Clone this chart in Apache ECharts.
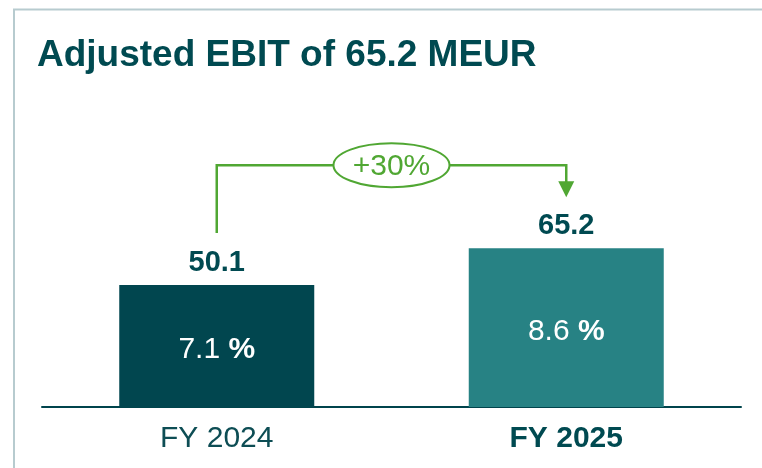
<!DOCTYPE html>
<html>
<head>
<meta charset="utf-8">
<script src="https://cdn.jsdelivr.net/npm/echarts@6/dist/echarts.min.js"></script>
<style>
  html, body { margin: 0; padding: 0; background: #fff; }
  #chart { width: 762px; height: 468px; }
</style>
</head>
<body>
<div id="chart"></div>
<script>
// data
const categories = ['FY 2024', 'FY 2025']
const ebitValues = [50.1, 65.2]
const marginValues = [7.1, 8.6]
const growthLabel = '+30%'

const FONT = 'Liberation Sans, Arial, sans-serif'
const DARK = '#01464f'
const TEAL = '#278284'
const GREEN = '#50a733'

const chart = echarts.init(document.getElementById('chart'))

const option = {
  animation: false,
  title: {
    text: 'Adjusted EBIT of 65.2 MEUR',
    left: 37,
    top: 37,
    padding: 0,
    textStyle: { fontFamily: FONT, fontSize: 37, fontWeight: 'bold', color: '#004a51' }
  },
  grid: { left: 42, right: 21, top: 163.5, bottom: 61 },
  xAxis: {
    type: 'category',
    data: categories,
    axisLine: { lineStyle: { color: '#00444c', width: 2 } },
    axisTick: { show: false },
    axisLabel: {
      margin: 17,
      formatter: (v, i) => (i === 1 ? '{b|' + v + '}' : '{r|' + v + '}'),
      rich: {
        r: { fontFamily: FONT, fontSize: 30, color: '#0d4d54' },
        b: { fontFamily: FONT, fontSize: 30, fontWeight: 'bold', color: '#004a51' }
      }
    }
  },
  yAxis: { type: 'value', min: 0, max: 100, show: false },
  series: [
    {
      type: 'bar',
      barWidth: 195,
      data: ebitValues.map((v, i) => ({
        value: v,
        itemStyle: { color: i === 0 ? DARK : TEAL }
      })),
      label: {
        show: true,
        position: 'inside',
        offset: [0, 4],
        formatter: (p) => '{n|' + marginValues[p.dataIndex].toFixed(1) + ' }{p|%}',
        rich: {
          n: { fontFamily: FONT, fontSize: 30, color: '#fff' },
          p: { fontFamily: FONT, fontSize: 30, fontWeight: 'bold', color: '#fff' }
        }
      }
    },
    {
      type: 'bar',
      barWidth: 195,
      barGap: '-100%',
      data: ebitValues,
      itemStyle: { color: 'transparent' },
      silent: true,
      label: {
        show: true,
        position: 'top',
        distance: 8,
        fontFamily: FONT,
        fontSize: 29,
        fontWeight: 'bold',
        color: '#004a51',
        formatter: (p) => p.value.toFixed(1)
      }
    }
  ]
}

chart.setOption(option)

// growth connector, placed from the bar positions
const p1 = chart.convertToPixel({ gridIndex: 0 }, [categories[0], ebitValues[0]])
const p2 = chart.convertToPixel({ gridIndex: 0 }, [categories[1], ebitValues[1]])
const startY = p1[1] - 52
const tipY = p2[1] - 51
const lineY = tipY - 32
const midX = (p1[0] + p2[0]) / 2

chart.setOption({
  graphic: [
    { type: 'line', shape: { x1: 13, y1: 9.5, x2: 762, y2: 9.5 }, style: { stroke: '#b7cbcf', lineWidth: 2 } },
    { type: 'line', shape: { x1: 14, y1: 9, x2: 14, y2: 468 }, style: { stroke: '#b7cbcf', lineWidth: 2 } },
    {
      type: 'polyline',
      shape: { points: [[p1[0], startY], [p1[0], lineY], [p2[0], lineY], [p2[0], tipY - 14]] },
      style: { stroke: GREEN, lineWidth: 2.5, fill: null }
    },
    {
      type: 'polygon',
      shape: { points: [[p2[0] - 8, tipY - 16], [p2[0] + 8, tipY - 16], [p2[0], tipY]] },
      style: { fill: GREEN }
    },
    {
      type: 'ellipse',
      shape: { cx: midX, cy: lineY, rx: 58, ry: 22 },
      style: { fill: '#fff', stroke: GREEN, lineWidth: 2 }
    },
    {
      type: 'text',
      x: midX,
      y: lineY + 1,
      style: {
        text: growthLabel,
        fontFamily: FONT,
        fontSize: 30,
        fill: GREEN,
        align: 'center',
        verticalAlign: 'middle'
      }
    }
  ]
})
</script>
</body>
</html>
